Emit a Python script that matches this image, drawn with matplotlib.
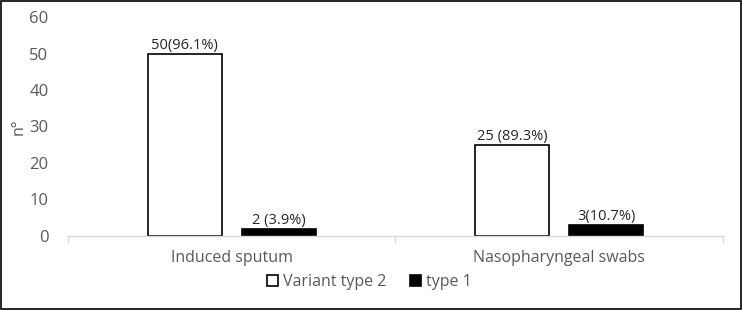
import matplotlib.pyplot as plt
from matplotlib.patches import Rectangle
import numpy as np

categories = ["Induced sputum", "Nasopharyngeal swabs"]
variant2 = [50, 25]
type1 = [2, 3]
labels_v2 = ["50(96.1%)", "25 (89.3%)"]
labels_t1 = ["2 (3.9%)", "3(10.7%)"]

plt.rcParams['font.family'] = ['Open Sans', 'DejaVu Sans']

fig = plt.figure(figsize=(7.42, 3.10), dpi=100)
ax = fig.add_axes([0.0916, 0.239, 0.8825, 0.706])

x = np.arange(len(categories))
w = 0.226
off = 0.144
b1 = ax.bar(x - off, variant2, w, color="white", edgecolor="black", linewidth=1.2, label="Variant type 2")
b2 = ax.bar(x + off, type1, w, color="black", edgecolor="black", linewidth=1.2, label="type 1")

for rect, lab in zip(b1, labels_v2):
    ax.text(rect.get_x() + rect.get_width() / 2, rect.get_height() + 0.2, lab,
            ha="center", va="bottom", fontsize=10.5, color="#262626")
for rect, lab in zip(b2, labels_t1):
    ax.text(rect.get_x() + rect.get_width() / 2, rect.get_height() + 0.2, lab,
            ha="center", va="bottom", fontsize=10.5, color="#262626")

ax.set_xlim(-0.5, 1.5)
ax.set_ylim(0, 60)
ax.set_yticks(range(0, 61, 10))
ax.set_xticks(x)
ax.set_xticklabels(categories)
ax.tick_params(axis="y", length=0, labelsize=12, labelcolor="#595959", pad=14)
ax.tick_params(axis="x", length=0, labelsize=11.5, labelcolor="#595959", pad=10)
for xt in [-0.5, 0.5, 1.5]:
    ax.plot([xt, xt], [0, -1.8], color="#d9d9d9", lw=1, clip_on=False)

for s in ["top", "right", "left"]:
    ax.spines[s].set_visible(False)
ax.spines["bottom"].set_color("#d9d9d9")
ax.spines["bottom"].set_linewidth(1)

ax.set_ylabel("n°", fontsize=11.5, color="#595959", labelpad=2)

leg = ax.legend(loc="center", bbox_to_anchor=(0.46, -0.21), ncol=2, frameon=False,
                fontsize=11.5, handlelength=0.7, handleheight=0.7, handletextpad=0.3,
                columnspacing=1.5)
for t in leg.get_texts():
    t.set_color("#595959")

fig.patches.append(Rectangle((0.001, 0.002), 0.997, 0.995, transform=fig.transFigure,
                             fill=False, edgecolor="black", linewidth=1.2))

fig.savefig("out.png", dpi=100)
